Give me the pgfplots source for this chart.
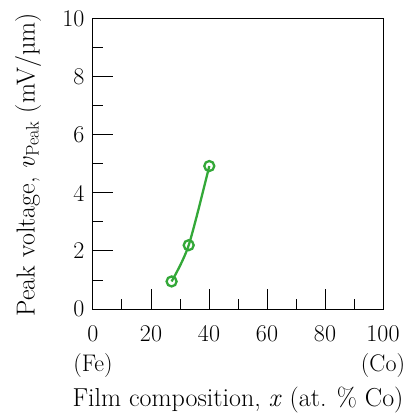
\documentclass[border=0pt]{standalone}
\usepackage{pgfplots}
\pgfplotsset{compat=1.18}
\definecolor{dgreen}{rgb}{0.2,0.66,0.22}
\begin{document}
\begin{tikzpicture}
\useasboundingbox (-93pt,-105pt) rectangle (315pt,309pt);
\begin{axis}[
  at={(0pt,0pt)}, anchor=origin,
  scale only axis, width=290pt, height=290pt,
  xmin=0, xmax=100, ymin=0, ymax=10,
  xtick={0,20,...,100}, ytick={0,2,...,10},
  xticklabels={0,20,40,60,80,100},
  yticklabels={0,2,4,6,8,10},
  minor xtick={10,30,50,70,90}, minor ytick={1,3,5,7,9},
  tick pos=left,
  major tick length=20pt, minor tick length=10pt,
  tick style={black, line width=1pt},
  axis line style={line width=1pt},
  ticklabel style={font=\rmfamily\fontsize{24}{28}\selectfont},
  xticklabel style={yshift=-13pt},
  yticklabel style={xshift=-5pt},
  label style={font=\rmfamily\fontsize{26}{30}\selectfont},
  ylabel={Peak voltage, \textit{v}\textsubscript{Peak} (mV/µm)},
  ylabel style={at={(axis description cs:-0.224,0.497)}, anchor=center},
  xlabel={Film composition, \textit{x} (at. \% Co)},
  xlabel style={at={(axis description cs:0.5,-0.315)}, anchor=center},
  clip=false,
]
\addplot[dgreen, line width=2.3pt, smooth, tension=0.5, mark=o, mark size=5pt,
  mark options={fill=white, line width=2.3pt}]
  coordinates {(27.1,0.95) (33.0,2.2) (40.1,4.93)};
\node[font=\rmfamily\fontsize{24}{28}\selectfont, anchor=center] at (axis description cs:0,-0.195) {(Fe)};
\node[font=\rmfamily\fontsize{24}{28}\selectfont, anchor=center] at (axis description cs:1,-0.195) {(Co)};
\end{axis}
\end{tikzpicture}
\end{document}
